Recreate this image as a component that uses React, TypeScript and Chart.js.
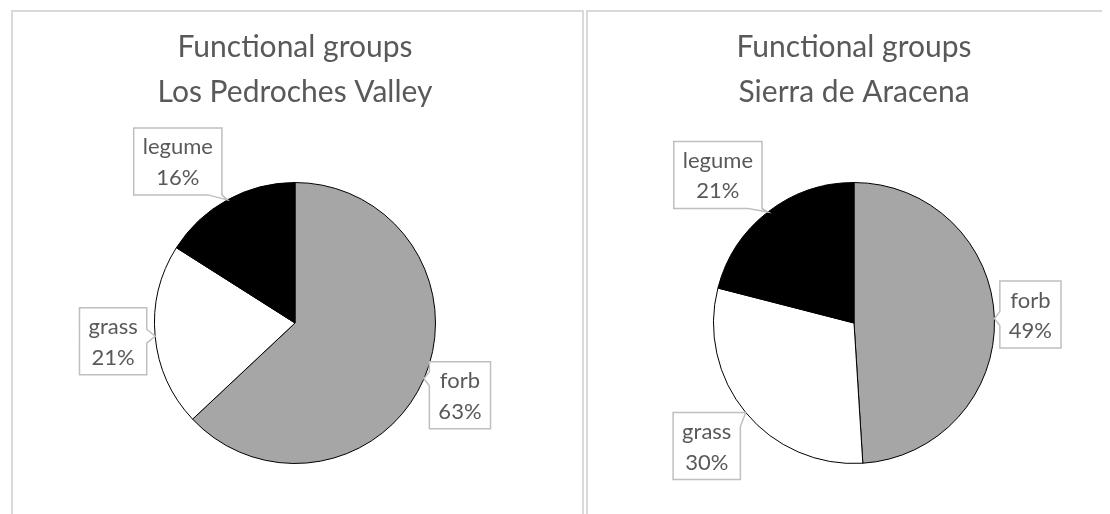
import React, { useEffect, useRef } from "react";
import { Chart, registerables } from "chart.js";

Chart.register(...registerables);

const categories = ["forb", "grass", "legume"];
const pedrochesValues = [63, 21, 16];
const aracenaValues = [49, 30, 21];
const pedrochesTitle = ["Functional groups", "Los Pedroches Valley"];
const aracenaTitle = ["Functional groups", "Sierra de Aracena"];
const sliceColors = ["#a6a6a6", "#ffffff", "#000000"];

const FONT = "Lato, 'Open Sans', sans-serif";
const TEXT_COLOR = "#595959";

type CalloutOpts = {
  offsets: [number, number][];
  sides: string[];
  fontSize: number;
  padX: number;
  boxHeight: number;
  baseWidth: number;
};

const calloutPlugin = {
  id: "callouts",
  afterDatasetsDraw(chart: any, _args: any, opts: CalloutOpts) {
    const ctx: CanvasRenderingContext2D = chart.ctx;
    const meta = chart.getDatasetMeta(0);
    const data = chart.data.datasets[0].data as number[];
    const labels = chart.data.labels as string[];
    ctx.save();
    ctx.font = `${opts.fontSize}px ${FONT}`;
    meta.data.forEach((arc: any, i: number) => {
      const { x, y, startAngle, endAngle, outerRadius } = arc.getProps(
        ["x", "y", "startAngle", "endAngle", "outerRadius"],
        true
      );
      const mid = (startAngle + endAngle) / 2;
      const tx = x + Math.cos(mid) * outerRadius;
      const ty = y + Math.sin(mid) * outerRadius;
      const lines = [String(labels[i]), `${data[i]}%`];
      const w = Math.max(...lines.map((l) => ctx.measureText(l).width)) + opts.padX * 2;
      const h = opts.boxHeight;
      const [ox, oy] = opts.offsets[i];
      const cx = tx + ox;
      const cy = ty + oy;
      const L = cx - w / 2;
      const R = cx + w / 2;
      const T = cy - h / 2;
      const B = cy + h / 2;
      const bw = opts.baseWidth;
      const side = opts.sides[i];
      const seg = (p: number, mn: number, mx: number) => {
        const a = Math.min(Math.max(p - bw / 2, mn), mx - bw);
        return [a, a + bw];
      };
      ctx.beginPath();
      ctx.moveTo(L, T);
      if (side === "top") {
        const [a, b] = seg(tx, L, R);
        ctx.lineTo(a, T);
        ctx.lineTo(tx, ty);
        ctx.lineTo(b, T);
      }
      ctx.lineTo(R, T);
      if (side === "right") {
        const [a, b] = seg(ty, T, B);
        ctx.lineTo(R, a);
        ctx.lineTo(tx, ty);
        ctx.lineTo(R, b);
      }
      ctx.lineTo(R, B);
      if (side === "bottom") {
        const [a, b] = seg(tx, L, R);
        ctx.lineTo(b, B);
        ctx.lineTo(tx, ty);
        ctx.lineTo(a, B);
      }
      ctx.lineTo(L, B);
      if (side === "left") {
        const [a, b] = seg(ty, T, B);
        ctx.lineTo(L, b);
        ctx.lineTo(tx, ty);
        ctx.lineTo(L, a);
      }
      ctx.closePath();
      ctx.fillStyle = "#ffffff";
      ctx.fill();
      ctx.strokeStyle = "#bfbfbf";
      ctx.lineWidth = 1.5;
      ctx.stroke();

      ctx.fillStyle = TEXT_COLOR;
      ctx.textAlign = "center";
      ctx.textBaseline = "alphabetic";
      ctx.fillText(lines[0], cx, cy - 7);
      ctx.fillText(lines[1], cx, cy + 23.5);
    });
    ctx.restore();
  },
};

type PanelProps = {
  values: number[];
  title: string[];
  width: number;
  height: number;
  padding: { left: number; right: number; top: number; bottom: number };
  offsets: [number, number][];
  sides: string[];
};

function PiePanel({ values, title, width, height, padding, offsets, sides }: PanelProps) {
  const ref = useRef<HTMLCanvasElement | null>(null);
  useEffect(() => {
    if (!ref.current) return;
    const chart = new Chart(ref.current, {
      type: "pie",
      data: {
        labels: categories,
        datasets: [
          {
            data: values,
            backgroundColor: sliceColors,
            borderColor: "#000000",
            borderWidth: 1,
          },
        ],
      },
      options: {
        responsive: false,
        animation: false,
        layout: { padding },
        plugins: {
          legend: { display: false },
          tooltip: { enabled: false },
          title: {
            display: true,
            text: title,
            color: TEXT_COLOR,
            font: { family: FONT, size: 30, weight: "normal", lineHeight: 45 / 30 },
            padding: { top: 13, bottom: 67 },
          },
          callouts: {
            offsets,
            sides,
            fontSize: 22,
            padX: 9,
            boxHeight: 67,
            baseWidth: 14,
          },
        } as any,
      },
      plugins: [calloutPlugin as any],
    });
    return () => chart.destroy();
  }, []);
  return <canvas ref={ref} width={width} height={height} style={{ display: "block" }} />;
}

export default function App() {
  const panelStyle: React.CSSProperties = {
    position: "absolute",
    top: 2,
    height: 560,
    boxSizing: "border-box",
    border: "2px solid #d9d9d9",
    background: "#ffffff",
    overflow: "hidden",
  };
  return (
    <div style={{ position: "relative", width: 1102, height: 506, overflow: "hidden", background: "#fff" }}>
      <div style={{ ...panelStyle, left: 3, width: 573 }}>
        <PiePanel
          values={pedrochesValues}
          title={pedrochesTitle}
          width={569}
          height={502}
          padding={{ left: 141, right: 146, top: 0, bottom: 50 }}
          offsets={[
            [36, 16.5],
            [-42, 5],
            [-49.5, -38.5],
          ]}
          sides={["left", "right", "bottom"]}
        />
      </div>
      <div style={{ ...panelStyle, left: 578, width: 560 }}>
        <PiePanel
          values={aracenaValues}
          title={aracenaTitle}
          width={520}
          height={502}
          padding={{ left: 125, right: 113, top: 0, bottom: 50 }}
          offsets={[
            [36, -4],
            [-39, 33.5],
            [-50, -37],
          ]}
          sides={["left", "right", "bottom"]}
        />
      </div>
    </div>
  );
}
